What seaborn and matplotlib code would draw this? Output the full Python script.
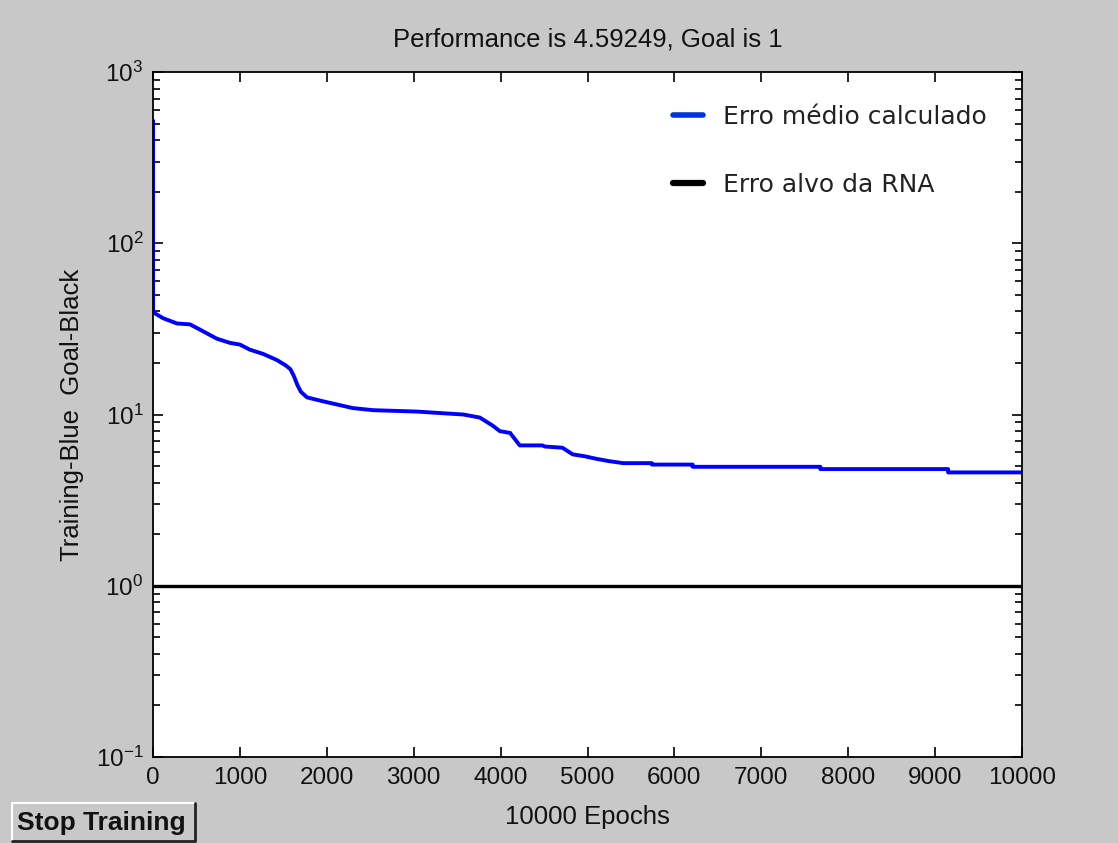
import matplotlib
matplotlib.use('Agg')
import matplotlib.pyplot as plt
import seaborn as sns
from matplotlib.lines import Line2D
from matplotlib.patches import Rectangle
from matplotlib.ticker import LogLocator, MultipleLocator

# training error (repeated epochs are the vertical steps)
epochs = [0, 0, 20, 115, 275, 425, 540, 735, 885, 1000, 1115, 1265, 1425,
          1530, 1580, 1620, 1660, 1700, 1770, 1880, 2000, 2300, 2530, 3040,
          3300, 3570, 3760, 3910, 3990, 4110, 4220, 4480, 4510, 4710, 4830,
          4970, 5110, 5240, 5410, 5740, 5740, 6210, 6210, 7680, 7680, 9150,
          9150, 10000]
training = [520, 40, 39, 36.5, 34, 33.6, 31.3, 27.7, 26.2, 25.6, 23.9, 22.6,
            20.8, 19.3, 18.4, 16.8, 14.9, 13.6, 12.6, 12.2, 11.8, 10.9, 10.6,
            10.4, 10.2, 10.0, 9.6, 8.6, 8.0, 7.8, 6.6, 6.6, 6.5, 6.4, 5.85,
            5.7, 5.5, 5.35, 5.2, 5.2, 5.1, 5.1, 4.95, 4.95, 4.8, 4.8, 4.59,
            4.59]
goal = 1
performance = 4.59249
n_epochs = 10000

bg = '#c8c8c8'

sns.set_theme(style='ticks')
plt.rcParams['font.family'] = ['Liberation Sans', 'DejaVu Sans']
plt.rcParams['mathtext.fontset'] = 'custom'
plt.rcParams['mathtext.rm'] = 'Liberation Sans'
plt.rcParams['axes.unicode_minus'] = False

fig = plt.figure(figsize=(11.18, 8.43), dpi=100, facecolor=bg)
ax = fig.add_axes([0.1369, 0.1020, 0.7772, 0.8126])
ax.set_facecolor('white')

sns.lineplot(x=epochs, y=training, ax=ax, color='#0000ff', linewidth=2.8,
             estimator=None, sort=False)
ax.axhline(goal, color='black', linewidth=2.4)

ax.set_yscale('log')
ax.set_ylim(0.1, 1000)
ax.set_xlim(0, n_epochs)
ax.xaxis.set_major_locator(MultipleLocator(1000))
ax.yaxis.set_major_locator(LogLocator(base=10))
ax.yaxis.set_minor_locator(LogLocator(base=10, subs=range(2, 10)))

for s in ax.spines.values():
    s.set_color('black')
    s.set_linewidth(1.3)
ax.tick_params(which='both', direction='in', top=True, right=True,
               color='black', labelsize=17.5, labelcolor='#111111')
ax.tick_params(which='major', length=7, width=1.2, pad=7)
ax.tick_params(which='minor', length=5, width=1.2)

ax.set_title(f'Performance is {performance}, Goal is {goal}', fontsize=18.5,
             color='#111111', pad=18)
ax.set_xlabel(f'{n_epochs} Epochs', fontsize=18.5, color='#111111', labelpad=12)
ax.set_ylabel('Training-Blue  Goal-Black', fontsize=18.5, color='#111111',
              labelpad=8)

handles = [Line2D([], [], color='#0033dd', linewidth=4),
           Line2D([], [], color='black', linewidth=4.5)]
ax.legend(handles, ['Erro médio calculado', 'Erro alvo da RNA'],
          loc='upper right', bbox_to_anchor=(0.985, 0.985), frameon=False,
          prop={'family': 'DejaVu Sans', 'size': 18}, labelspacing=1.75,
          handlelength=1.2, handletextpad=0.8, labelcolor='#222222')

# the "Stop Training" button of the training window
btn = Rectangle((12 / 1118, 2 / 843), 183 / 1118, 38 / 843,
                transform=fig.transFigure, facecolor=bg, edgecolor='none')
fig.patches.append(btn)
x0, x1 = 12 / 1118, 195 / 1118
y0, y1 = 2 / 843, 40 / 843
fig.add_artist(Line2D([x0, x0, x1], [y0, y1, y1], color='white', lw=1.5,
                      transform=fig.transFigure))
fig.add_artist(Line2D([x0, x1, x1], [y0, y0, y1], color='#222222', lw=2,
                      transform=fig.transFigure))
fig.text(101 / 1118, 20 / 843, 'Stop Training', ha='center', va='center',
         fontsize=19, fontweight='bold', color='#111111')

fig.savefig('out.png', dpi=100, facecolor=bg)
